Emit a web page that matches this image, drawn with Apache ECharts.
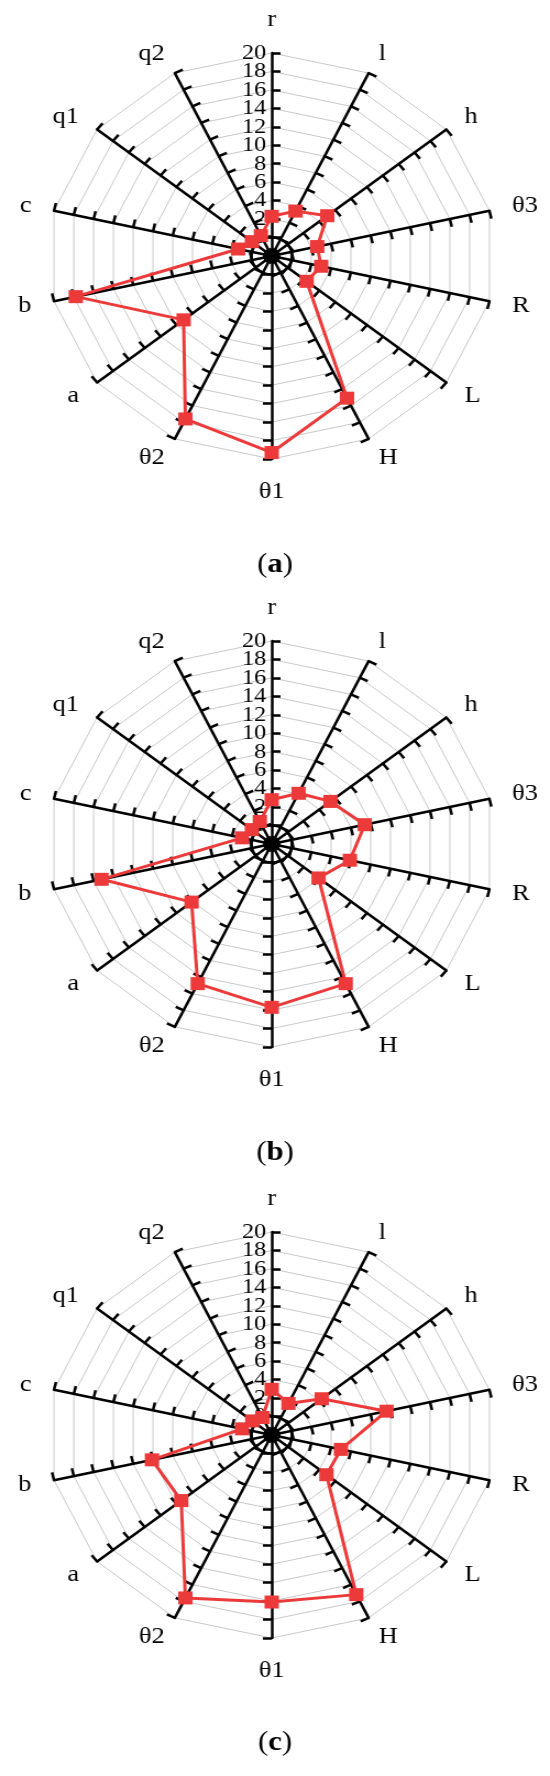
<!DOCTYPE html>
<html>
<head>
<meta charset="utf-8">
<script src="https://cdn.jsdelivr.net/npm/echarts@6/dist/echarts.min.js"></script>
<style>
  html, body { margin: 0; padding: 0; background: #fff; overflow: hidden; }
  /* the original figure is stretched sideways, so the whole chart is widened */
  #main { width: 500px; height: 1776px; transform: scaleX(1.1); transform-origin: 0 0; }
</style>
</head>
<body>
<div id="main"></div>
<script>
// axes clockwise from the top
const axisNames = ["r", "l", "h", "θ3", "R", "L", "H", "θ1", "θ2", "a", "b", "c", "q1", "q2"];
const valuesA = [2.3, 3.4, 5.0, 2.6, 3.0, 2.4, 15.1, 19.3, 17.6, 9.1, 17.8, 1.4, 0.5, 0.45];
const valuesB = [2.8, 4.1, 5.4, 7.4, 5.9, 3.9, 14.8, 15.7, 14.8, 8.1, 15.2, 1.0, 0.5, 0.7];
const valuesC = [2.95, 1.8, 4.3, 9.6, 5.0, 4.9, 17.2, 16.1, 17.6, 9.4, 10.1, 1.0, 0.45, 0.1];
const captions = ["a", "b", "c"];
const axisMin = -2;
const axisMax = 20;

const allValues = [valuesA, valuesB, valuesC];
const centerX = 247;
const centersY = [256, 844, 1435];
const captionTops = [546, 1134, 1724];
const radius = 203;
const red = "#ec3a3a";
const font = "Liberation Serif, Times New Roman, serif";
// names of the nearly horizontal axes sit level with the axis
const levelNames = ["θ3", "R", "b", "c"];

// echarts places radar axes counter-clockwise: keep the first, reverse the rest
const toCCW = (arr) => [arr[0]].concat(arr.slice(1).reverse());

const clear = "rgba(0,0,0,0)";
const ringColors = [clear, clear];
const zeroRing = [clear, "#000"];
for (let i = 0; i < 10; i++) {
  ringColors.push("#c8c8c8");
  zeroRing.push(clear);
}

// numbers on the r axis sit closer than their text boxes, so they are split
// over two helper radars (every other number each) to stop echarts hiding any
function labelRadar(cy, keep, withRing) {
  return {
    center: [centerX, cy],
    radius: radius,
    startAngle: 90,
    shape: "circle",
    splitNumber: 11,
    indicator: axisNames.map((n, i) => {
      const ind = { name: n, min: axisMin, max: axisMax };
      if (i === 0) ind.axisLabel = { show: true };
      return ind;
    }),
    axisName: { show: false },
    axisLine: { show: false },
    axisTick: { show: false },
    axisLabel: {
      show: false,
      color: "#000",
      fontFamily: font,
      fontSize: 22,
      margin: 5,
      showMinLabel: false,
      showMaxLabel: keep === 0,
      formatter: (v) => (v >= 0 && (v / 2) % 2 === keep ? String(v) : ""),
    },
    splitLine: withRing
      ? { lineStyle: { color: zeroRing, width: 2.5 } }
      : { show: false },
    splitArea: { show: false },
  };
}

const radars = [];
const series = [];
allValues.forEach((vals, k) => {
  const cy = centersY[k];
  radars.push({
    center: [centerX, cy],
    radius: radius,
    startAngle: 90,
    shape: "polygon",
    splitNumber: 11,
    indicator: toCCW(axisNames).map((n) => {
      const ind = { name: n, min: axisMin, max: axisMax };
      if (levelNames.includes(n)) ind.nameTextStyle = { verticalAlign: "middle" };
      return ind;
    }),
    axisName: { color: "#000", fontFamily: font, fontSize: 24 },
    nameGap: 21,
    axisLine: { lineStyle: { color: "#000", width: 2.5 } },
    axisTick: { show: true, length: -8, lineStyle: { color: "#000", width: 2.5 } },
    axisLabel: { show: false },
    splitLine: { lineStyle: { color: ringColors, width: 1 } },
    splitArea: { show: false },
  });
  radars.push(labelRadar(cy, 0, true)); // 0, 4, 8 ... 20 and the black zero circle
  radars.push(labelRadar(cy, 1, false)); // 2, 6, 10 ... 18
  series.push({
    type: "radar",
    radarIndex: k * 3,
    z: 5,
    symbol: "rect",
    symbolSize: 13,
    lineStyle: { color: red, width: 3 },
    itemStyle: { color: red },
    data: [{ value: toCCW(vals) }],
  });
});

const chart = echarts.init(document.getElementById("main"));
chart.setOption({
  animation: false,
  title: captions.map((c, k) => ({
    text: "({b|" + c + "})",
    left: "center",
    top: captionTops[k],
    textStyle: {
      fontFamily: font,
      fontSize: 28,
      fontWeight: "normal",
      color: "#000",
      rich: { b: { fontFamily: font, fontSize: 28, fontWeight: "bold", color: "#000" } },
    },
  })),
  radar: radars,
  series: series,
});
</script>
</body>
</html>
